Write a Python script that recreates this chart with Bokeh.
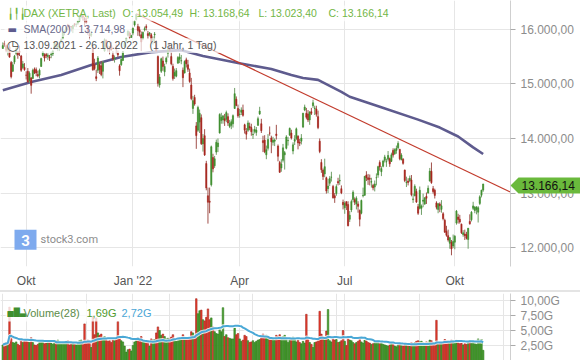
import numpy as np
import pandas as pd
from bokeh.plotting import figure
from bokeh.layouts import column
from bokeh.models import (FixedTicker, Range1d, BoxAnnotation, Div, Grid, ColumnDataSource)
from bokeh.core.properties import value
from bokeh.embed import file_html
from bokeh.resources import INLINE

# ---------------- data (DAX XETRA, daily, 13.09.2021 - 26.10.2022) ----------------
opens = [
    15650,15740,15700,15620,15680,15390,15230,15400,15560,15580,15600,15510,15300,15300,
    15160,15230,15060,15110,15100,15270,15260,15170,15160,15320,15520,15530,15540,15500,15490,15530,15550,15650,15720,15680,15660,
    15780,15830,15950,15990,16080,16060,16050,16010,16100,16090,16110,16150,16240,16250,16200,16170,16060,15900,15890,15660,15350,15130,
    15250,15350,15330,15230,15600,15800,15650,15640,15700,15530,15460,15650,15560,15330,15350,15430,15680,15780,15890,15930,15850,
    15930,16080,16180,16050,15990,15900,15820,15990,16050,15920,15910,15900,15800,15900,15780,15500,14980,15230,15420,15220,15400,
    15560,15640,15500,15320,15150,15140,15380,15450,15420,15250,15200,15440,15350,15200,14980,14550,14750,14230,14150,14300,
    14380,13900,14050,13540,12950,12850,13150,13650,13500,13750,13850,14100,14330,14340,14360,14350,14400,14220,14240,14270,14550,14720,14550,
    14440,14480,14520,14250,14130,14150,14220,14200,14070,14130,14110,14240,14450,14270,13960,13970,13700,13820,14100,
    14010,13930,13950,14080,13860,13560,13460,13600,13700,13820,13960,14060,14100,13770,13950,14000,14040,13930,13950,14210,14520,14460,
    14450,14340,14490,14600,14550,14540,14400,13950,13560,13420,13350,13280,13080,13180,13290,13120,12950,12990,13210,13220,13080,12830,
    12730,12840,12790,12520,12690,12880,12880,12800,12800,12680,12630,12950,12960,13330,13280,13270,13200,13140,13110,13280,13330,
    13560,13390,13490,13600,13570,13620,13630,13580,13780,13720,13780,13830,13800,13610,13620,13420,13190,13220,13230,13240,12880,12950,13030,
    12750,12720,12720,12850,12800,12940,13000,13220,13400,13080,13050,12820,12700,12800,12700,12620,12500,12300,12220,12080,12100,12030,
    12100,12450,12560,12520,12430,12240,12250,12240,12150,12480,12510,12720,12680,12700,12650,12810,12960,13054,
]
highs = [
    15760,15790,15720,15680,15730,15420,15400,15530,15670,15600,15700,15530,15420,15380,
    15230,15290,15230,15120,15280,15300,15300,15240,15280,15480,15600,15560,15570,15560,15530,15590,15620,15770,15760,15740,15700,
    15830,15960,15980,16040,16100,16080,16060,16080,16110,16110,16160,16260,16290,16280,16220,16220,16080,15960,15970,15690,15460,15260,
    15510,15390,15420,15420,15830,15810,15700,15690,15770,15600,15520,15720,15610,15360,15470,15600,15770,15840,15980,15960,15900,
    16030,16170,16285,16100,16050,15960,15960,16050,16090,15970,15950,15930,15870,15950,15800,15520,15180,15480,15500,15370,15500,
    15650,15730,15580,15370,15280,15290,15510,15560,15530,15300,15430,15480,15440,15280,15110,14780,14800,14300,14600,14530,
    14440,14080,14170,13590,13100,13100,13870,13720,13680,13980,14000,14460,14470,14430,14450,14510,14460,14340,14350,14440,14925,14770,14620,
    14540,14570,14620,14270,14190,14330,14290,14270,14170,14230,14210,14400,14580,14360,14050,14060,13870,14080,14220,
    14050,14030,14000,14250,13890,13590,13620,13900,13770,14060,14030,14200,14160,13930,14060,14200,14060,13990,14080,14470,14620,14560,
    14520,14500,14560,14710,14600,14600,14510,14000,13620,13450,13630,13300,13260,13310,13390,13150,13000,13160,13280,13340,13140,12880,
    12850,12850,12850,12670,12880,13050,12920,12940,12850,12700,12880,13100,13310,13400,13350,13340,13280,13170,13230,13360,13500,
    13600,13490,13610,13700,13630,13770,13650,13740,13820,13820,13870,13950,13810,13730,13640,13430,13300,13270,13320,13330,12990,13160,13080,
    12800,13120,12790,12990,12920,13010,13140,13460,13560,13130,13080,12850,12820,12830,12870,12650,12530,12400,12330,12190,12140,12240,
    12230,12690,12620,12600,12440,12320,12330,12290,12360,12610,12670,12840,12760,12760,12760,12960,13060,13169,
]
lows = [
    15640,15680,15580,15520,15480,15100,15220,15360,15520,15460,15510,15220,15270,15240,
    15080,15020,15020,14820,15090,15180,15140,15120,15100,15310,15500,15410,15470,15440,15420,15470,15510,15640,15650,15600,15600,
    15740,15810,15890,15960,15980,16000,15960,15930,16050,16040,16080,16130,16200,16160,16050,16100,15900,15810,15860,15240,15250,15050,
    15200,15180,15140,15100,15590,15660,15590,15540,15610,15420,15390,15560,15490,15150,15330,15420,15670,15760,15870,15820,15840,
    15890,16050,16160,15880,15870,15600,15800,15960,15980,15820,15870,15740,15720,15760,15580,14950,14930,15200,15240,15140,15360,
    15480,15590,15340,15060,15090,15120,15370,15380,15360,14940,15190,15300,15220,15020,14700,14450,14600,13810,14120,14100,
    13880,13760,13680,13050,12440,12630,13120,13380,13460,13700,13750,14090,14270,14270,14230,14300,14230,14190,14170,14200,14540,14590,14380,
    14380,14430,14400,14090,13980,14120,14150,14050,13990,14090,14050,14230,14430,14100,13750,13730,13620,13780,14050,
    13730,13870,13860,13980,13580,13370,13390,13560,13430,13800,13870,14050,13980,13710,13880,13970,13800,13860,13890,14190,14500,14350,
    14300,14250,14430,14560,14430,14400,14170,13730,13370,13240,13290,12990,13000,13130,13210,12900,12820,12950,13140,13150,12980,12700,
    12620,12690,12390,12470,12650,12830,12780,12700,12640,12390,12610,12920,12950,13220,13150,13140,13100,13050,13030,13140,13280,
    13410,13310,13470,13560,13480,13580,13480,13570,13650,13700,13720,13800,13600,13600,13520,13200,13110,13140,13200,12940,12820,12940,12820,
    12600,12700,12600,12740,12780,12800,12990,13210,13170,12990,12900,12700,12630,12650,12640,12500,12270,12200,12110,11980,11860,11990,
    11970,12420,12440,12440,12250,12200,12140,12150,11980,12420,12480,12690,12630,12610,12460,12780,12920,13023,
]
closes = [
    15701,15722,15616,15652,15490,15132,15349,15506,15644,15531,15574,15249,15365,15261,
    15157,15037,15195,14973,15250,15207,15200,15147,15250,15463,15587,15474,15516,15523,15473,15543,15599,15758,15706,15696,15689,
    15806,15954,15960,16030,16054,16047,16040,16068,16083,16094,16148,16248,16251,16221,16160,16116,15937,15878,15918,15257,15280,15100,
    15473,15263,15170,15387,15813,15687,15639,15623,15622,15454,15476,15637,15532,15240,15447,15593,15756,15838,15964,15853,15885,
    16021,16152,16271,15980,15948,15768,15942,16011,16032,15884,15934,15773,15810,15912,15603,15011,15124,15460,15320,15318,15471,
    15619,15613,15368,15100,15207,15242,15482,15490,15425,15114,15412,15370,15268,15043,14731,14693,14631,14052,14567,14461,
    13905,14000,13698,13094,12832,12831,13848,13443,13628,13929,13917,14441,14388,14413,14326,14474,14283,14274,14306,14418,14820,14606,14415,
    14446,14518,14424,14152,14078,14284,14193,14124,14076,14164,14154,14362,14502,14143,13924,13757,13793,13980,14098,
    13940,13970,13971,14052,13674,13381,13534,13828,13740,14028,13964,14185,14008,13883,13982,14176,13919,13914,14008,14462,14576,14388,
    14340,14485,14460,14653,14556,14445,14199,13762,13428,13304,13483,13038,13127,13265,13293,12912,12913,13118,13186,13232,13003,12784,
    12813,12773,12401,12595,12843,13015,12833,12906,12757,12520,12864,12960,13308,13282,13247,13254,13210,13097,13166,13282,13484,
    13479,13449,13587,13662,13574,13688,13535,13700,13695,13795,13816,13910,13627,13697,13544,13230,13194,13194,13271,12971,12893,13123,12835,
    12631,13051,12761,12871,12916,12904,13088,13402,13189,13028,12957,12741,12803,12767,12767,12531,12284,12227,12140,12183,11976,12114,
    12209,12670,12517,12471,12273,12272,12220,12172,12356,12438,12649,12765,12742,12741,12731,12931,13053,13166,
]
volumes_g = [
    2.6,2.9,3.0,3.1,8.9,4.2,3.0,2.9,3.1,2.7,2.5,3.6,3.0,3.2,
    3.4,3.1,3.0,3.8,3.0,2.6,2.5,2.7,3.0,3.1,3.2,2.8,2.9,3.0,3.2,2.9,2.7,3.2,3.3,3.4,3.1,
    2.8,3.0,3.1,3.2,3.3,2.6,2.8,3.0,2.7,2.6,2.9,3.3,3.4,3.1,6.1,3.2,3.4,3.3,2.2,7.3,4.3,7.1,
    4.6,4.2,4.4,3.8,4.0,3.5,3.2,3.3,3.0,3.4,3.3,3.6,6.5,3.9,3.3,3.1,2.4,1.4,1.8,1.9,1.6,
    2.5,3.1,3.5,3.8,3.4,4.0,3.3,3.1,3.0,3.2,2.4,3.6,3.4,3.5,4.6,5.6,5.0,4.2,4.4,4.0,3.6,
    3.7,3.6,3.9,4.3,3.4,3.2,3.3,3.7,3.8,4.3,3.9,3.5,3.6,3.8,4.8,4.6,4.1,10.3,7.8,8.3,
    8.4,6.8,6.6,7.2,8.6,6.8,7.1,5.6,4.8,4.5,4.4,5.2,4.8,8.8,4.0,4.3,3.8,3.7,3.6,3.6,5.4,4.3,4.5,
    3.6,3.2,3.4,4.2,4.0,3.3,3.0,3.1,3.3,3.0,3.2,3.4,3.5,3.8,4.4,4.0,4.2,3.8,3.9,
    3.5,3.6,3.4,4.2,4.0,4.3,3.9,4.0,4.2,3.8,3.0,3.5,3.6,3.9,3.7,3.1,3.4,3.0,2.8,3.2,2.9,7.7,
    3.6,3.0,2.7,2.2,3.0,3.1,3.4,8.2,4.4,4.0,3.9,4.9,8.5,3.3,3.1,3.6,3.4,3.5,3.0,3.1,3.3,5.0,
    3.2,2.5,4.0,3.4,3.3,3.0,2.8,3.0,3.2,3.6,3.1,2.9,3.4,3.3,3.0,2.9,2.7,2.8,3.0,3.1,3.3,
    2.8,2.9,2.7,2.6,2.5,2.4,2.6,2.8,2.7,2.4,2.3,2.6,2.7,2.5,2.4,2.7,2.8,2.5,2.4,3.0,2.8,3.0,3.2,
    3.3,3.1,3.2,3.0,2.9,3.1,3.0,3.4,3.3,3.0,2.9,6.7,2.7,2.8,3.0,3.1,3.5,3.3,3.2,3.1,3.4,3.3,
    2.9,3.4,3.0,2.8,2.9,2.6,2.8,2.7,3.2,3.3,2.9,3.1,2.8,2.7,3.6,3.0,3.5,1.7,
]
# SMA(200) (trading-day index, value)
sma200_day = [0, 17, 35, 53, 71, 89, 107, 120, 141, 161, 173, 180, 189, 203, 208, 226, 249, 262, 273, 282, 288]
sma200_val = [14882, 15036, 15164, 15345, 15491, 15582, 15618, 15509, 15382, 15273, 15164, 15109, 15073,
              14855, 14764, 14582, 14345, 14200, 14036, 13836, 13715]
# downtrend line (trading-day index, value)
trend_day = [80, 306]
trend_val = [16285, 12995]

price_ticks = [12000, 13000, 14000, 15000, 16000]
price_tick_labels = ["12.000,00", "13.000,00", "14.000,00", "15.000,00", "16.000,00"]
vol_ticks = [2.5, 5.0, 7.5, 10.0]
vol_tick_labels = ["2,50G", "5,00G", "7,50G", "10,00G"]
month_tick_dates = ["2021-10-01", "2022-01-03", "2022-04-01", "2022-07-01", "2022-10-03"]
month_tick_labels = ["Okt", "Jan '22", "Apr", "Jul", "Okt"]
last_price_text = "13.166,14"
legend_ohlc = ["O: 13.054,49", "H: 13.168,64", "L: 13.023,40", "C: 13.166,14"]

# ---------------- preparation ----------------
n = min(len(opens), len(highs), len(lows), len(closes), len(volumes_g))
o = np.array(opens[:n], float); h = np.array(highs[:n], float)
l = np.array(lows[:n], float); c = np.array(closes[:n], float)
v = np.array(volumes_g[:n], float)
idx = np.arange(n)
dates = pd.bdate_range("2021-09-13", "2022-10-26", freq="C",
                       holidays=["2021-12-24", "2021-12-31", "2022-04-15", "2022-04-18"])
tick_pos = [int(np.searchsorted(dates.values, np.datetime64(d))) for d in month_tick_dates]

up = c >= o
body_col = np.where(up, "#3f8f2f", "#a8261f")
wick_col = np.where(up, "#6f9e66", "#a0504a")
vol_fill = np.where(up, "#47a02c", "#e83a2c")
vol_line = np.where(up, "#2f7a1e", "#a82a20")
vol_sma = pd.Series(v).rolling(28, min_periods=1).mean().values

src = ColumnDataSource(dict(x=idx, o=o, h=h, l=l, c=c, top=np.maximum(o, c), bot=np.minimum(o, c),
                            bcol=body_col, wcol=wick_col, v=v, vf=vol_fill, vl=vol_line, vs=vol_sma))

# ---------------- layout geometry ----------------
FW = 510            # frame width (px)
FH = 268            # price frame height (px)
X0, X1 = -1.39, 304.4
Y_TOP, Y_BOT = 16527.3, 11654.5
VTOP = 67 / 6.0

def px(xp):
    return X0 + xp * (X1 - X0) / FW

def py(yp):
    return Y_TOP - yp * (Y_TOP - Y_BOT) / FH

def vy(yp):  # volume panel, yp measured in page px (panel frame 293..360)
    return (360 - yp) / 6.0

FONT = "Arial"
GRID = "#e6e6e6"
LEG = "10.5px"

# ---------------- price figure ----------------
p1 = figure(width=580, height=290, x_range=Range1d(X0, X1), y_range=Range1d(Y_BOT, Y_TOP),
            output_backend="svg", toolbar_location=None, y_axis_location="right",
            min_border_left=0, min_border_top=0, min_border_right=70, min_border_bottom=22)
p1.outline_line_color = None
p1.background_fill_color = "white"
p1.border_fill_color = "white"

ya = p1.yaxis[0]
ya.ticker = FixedTicker(ticks=price_ticks)
ya.major_label_overrides = {t: s for t, s in zip(price_ticks, price_tick_labels)}
ya.axis_line_color = "#cfcfcf"
ya.major_tick_line_color = "#aaaaaa"
ya.major_tick_out = 5
ya.major_tick_in = 0
ya.minor_tick_line_color = None
ya.minor_tick_out = 0
ya.major_label_standoff = 5
ya.major_label_text_font = FONT
ya.major_label_text_font_size = "12px"
ya.major_label_text_color = "#8c8c8c"

xa = p1.xaxis[0]
xa.ticker = FixedTicker(ticks=tick_pos)
xa.major_label_overrides = {t: s for t, s in zip(tick_pos, month_tick_labels)}
xa.axis_line_color = None
xa.major_tick_line_color = None
xa.minor_tick_line_color = None
xa.major_tick_out = 0
xa.major_tick_in = 0
xa.minor_tick_out = 0
xa.major_label_standoff = 7
xa.major_label_text_font = FONT
xa.major_label_text_font_size = "12px"
xa.major_label_text_color = "#555555"

p1.xgrid.grid_line_color = GRID
p1.ygrid.grid_line_color = GRID

# SMA200
p1.line(sma200_day, sma200_val, line_color="#5e5b8e", line_width=2.6, line_join="round")
# trendline
p1.line(trend_day, trend_val, line_color="#c23b2c", line_width=1.2)
# candles
p1.segment(x0="x", y0="l", x1="x", y1="h", line_color="wcol", line_width=1, source=src)
p1.vbar(x="x", width=0.7, top="top", bottom="bot", fill_color="bcol", line_color="bcol",
        line_width=0.6, source=src)

# text helper (text glyphs drawn on the overlay level, above the backing boxes)
def txt(fig, x, y, text, color, size="11px", font=FONT, align="left", style="normal"):
    r = fig.text([x], [y], text=[text], text_color=color, text_font=value(font),
                 text_font_size=size, text_baseline="middle", text_align=align,
                 text_font_style=style)
    r.level = "overlay"
    return r

# translucent backing boxes behind the legend rows
for (x_a, x_b, y_a, y_b) in [(4, 394, 5, 21), (4, 130, 22, 37), (4, 222, 38, 53)]:
    p1.add_layout(BoxAnnotation(left=px(x_a), right=px(x_b), top=py(y_a), bottom=py(y_b),
                                fill_color="white", fill_alpha=0.7, line_color=None))

txt(p1, px(7), py(13), "\u257d\u257f\u257d", "#6db33f", size="10px", font="DejaVu Sans")
txt(p1, px(23), py(13), "DAX (XETRA, Last)", "#72b646", size=LEG)
for xpos, s in zip([122, 189, 258, 328], legend_ohlc):
    txt(p1, px(xpos), py(13), s, "#72b646", size=LEG)
txt(p1, px(7), py(29), "\u25ac", "#5e5b8e", size="10px", font="DejaVu Sans")
txt(p1, px(23), py(29), "SMA(200)", "#68688a", size=LEG)
txt(p1, px(78), py(29), "13.714,98", "#68688a", size=LEG)
txt(p1, px(6), py(45), "\u25f7", "#444444", size="14px", font="DejaVu Sans")
txt(p1, px(23), py(45), "13.09.2021 - 26.10.2022", "#555555", size=LEG)
txt(p1, px(149), py(45), "(1 Jahr, 1 Tag)", "#555555", size=LEG)

# stock3 logo
p1.add_layout(BoxAnnotation(left=px(14), right=px(36), top=py(231), bottom=py(251),
                            fill_color="#7eaaee", fill_alpha=1.0, line_color=None))
txt(p1, px(25), py(241.5), "3", "white", size="15px", font="Roboto", align="center", style="bold")
txt(p1, px(40), py(240.5), "stock3.com", "#8c8c8c", size="11px", font="Roboto")

# ---------------- separator ----------------
sep = Div(width=580, height=2, margin=0, styles={"background-color": "#e4e4e4"})

# ---------------- volume figure ----------------
p2 = figure(width=580, height=68, x_range=p1.x_range, y_range=Range1d(0, VTOP),
            output_backend="svg", toolbar_location=None, y_axis_location="right",
            x_axis_location=None,
            min_border_left=0, min_border_top=1, min_border_right=70, min_border_bottom=0)
p2.outline_line_color = None
va = p2.yaxis[0]
va.ticker = FixedTicker(ticks=vol_ticks)
va.major_label_overrides = {t: s for t, s in zip(vol_ticks, vol_tick_labels)}
va.axis_line_color = "#cfcfcf"
va.major_tick_line_color = "#aaaaaa"
va.major_tick_out = 5
va.major_tick_in = 0
va.minor_tick_line_color = None
va.minor_tick_out = 0
va.major_label_standoff = 5
va.major_label_text_font = FONT
va.major_label_text_font_size = "12px"
va.major_label_text_color = "#8c8c8c"
p2.ygrid.grid_line_color = GRID
p2.add_layout(Grid(dimension=0, ticker=FixedTicker(ticks=tick_pos), grid_line_color=GRID))

p2.vbar(x="x", width=0.92, top="v", bottom=0, fill_color="vf", line_color="vl",
        line_width=0.6, source=src)
p2.line("x", "vs", line_color="white", line_width=4, alpha=0.8, source=src)
p2.line("x", "vs", line_color="#4aa8d6", line_width=2, source=src)

p2.add_layout(BoxAnnotation(left=px(5), right=px(153), top=vy(303), bottom=vy(321),
                            fill_color="white", fill_alpha=0.8, line_color=None))
txt(p2, px(7), vy(312), "\u2585\u2588\u2583", "#3f8f2f", size="8px", font="DejaVu Sans")
txt(p2, px(23), vy(312), "Volume(28)", "#5b8c48")
txt(p2, px(86), vy(312), "1,69G", "#4f9a2e")
txt(p2, px(121), vy(312), "2,72G", "#4aa6d6")

layout = column(p1, sep, p2, spacing=0,
                styles={"position": "absolute", "left": "0px", "top": "0px"})

# ---------------- last-price tag, overlaid on the price axis ----------------
TAG_W, TAG_H = 70, 18
tag = figure(width=TAG_W, height=TAG_H, x_range=Range1d(0, TAG_W), y_range=Range1d(0, TAG_H),
             output_backend="svg", toolbar_location=None, x_axis_location=None, y_axis_location=None,
             min_border=0, styles={"position": "absolute", "left": "510px", "top": "176px"})
tag.outline_line_color = None
tag.grid.visible = False
tag.background_fill_alpha = 0
tag.border_fill_alpha = 0
tag.patch([0, 8, TAG_W, TAG_W, 8], [TAG_H / 2, TAG_H - 1, TAG_H - 1, 1, 1],
          fill_color="#6ab93c", line_color=None)
tag.text([11], [TAG_H / 2], text=[last_price_text], text_color="#111111",
         text_font=value(FONT), text_font_size="12px", text_baseline="middle")

open("out.html", "w").write(file_html([layout, tag], INLINE))
